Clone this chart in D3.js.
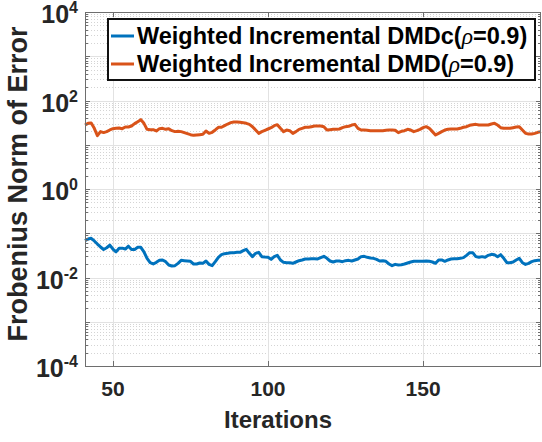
<!DOCTYPE html>
<html>
<head>
<meta charset="utf-8">
<script src="https://cdn.jsdelivr.net/npm/d3@7"></script>
<style>
  body { margin: 0; background: #fff; }
  text { font-family: Arial, "Liberation Sans", sans-serif; }
</style>
</head>
<body>
<script>
// iterations run from startIter, one value per iteration
var startIter = 41;
var endIter = 188;
var xTicks = [50, 100, 150];
var yExps = [-4, -2, 0, 2, 4];
var seriesNames = ["Weighted Incremental DMDc", "Weighted Incremental DMD"];
var seriesColors = ["#0072BD", "#D95319"];

// Weighted Incremental DMDc (rho = 0.9), iterations 41..188
var dmdcErr = [
  0.068, 0.074, 0.077, 0.067, 0.057, 0.049, 0.043, 0.047, 0.054, 0.044,
  0.038, 0.046, 0.046, 0.044, 0.051, 0.043, 0.043, 0.048, 0.048, 0.038,
  0.027, 0.0216, 0.0202, 0.022, 0.0244, 0.0249, 0.0228, 0.0192, 0.0182, 0.0185,
  0.0209, 0.0244, 0.024, 0.0236, 0.0232, 0.0202, 0.0202, 0.0213, 0.0209, 0.0236,
  0.0198, 0.0185, 0.0228, 0.0286,
  0.0328, 0.0346, 0.0352, 0.0364, 0.0364, 0.037, 0.037, 0.0404, 0.0433, 0.0352,
  0.0296, 0.0352, 0.037, 0.0296, 0.029, 0.0286, 0.0257, 0.0296, 0.0317, 0.0249,
  0.022, 0.0216, 0.0216, 0.0209, 0.0224, 0.024, 0.0249, 0.0262,
  0.0262, 0.0266, 0.0266, 0.0262, 0.0281, 0.0301, 0.0271, 0.0236, 0.0224, 0.0236,
  0.0236, 0.0228, 0.024, 0.0244, 0.0236, 0.0249, 0.0262, 0.0296, 0.0301, 0.0286,
  0.0276, 0.0271, 0.0257, 0.0236, 0.024, 0.0232, 0.0202, 0.0185, 0.0198, 0.0192,
  0.0195, 0.0202, 0.0213, 0.0224, 0.0232, 0.0232, 0.0232, 0.0232, 0.0236, 0.0232,
  0.0224, 0.0209, 0.0249, 0.0249, 0.0232, 0.0249, 0.0262, 0.0266, 0.0266, 0.0271,
  0.0281, 0.0317, 0.0364, 0.0364, 0.0296, 0.0286, 0.0296, 0.0286, 0.0317, 0.0334,
  0.0328, 0.0296, 0.0328, 0.0271, 0.0216, 0.0216, 0.0224, 0.0249, 0.0271, 0.0216,
  0.0198, 0.0209, 0.0228, 0.024, 0.0244, 0.0244
];

// Weighted Incremental DMD (rho = 0.9), iterations 41..188
var dmdErr = [
  27.9, 30.5, 31.0, 23.5, 16.0, 19.8, 18.8, 19.8, 21.6, 23.1,
  23.5, 23.9, 23.1, 25.2, 25.2, 26.5, 30.0, 33.2, 36.9, 30.5,
  22.3, 21.9, 21.9, 20.5, 23.1, 23.5, 22.3, 23.1, 20.8, 19.8,
  20.1, 19.8, 18.8, 17.8, 16.9, 16.3, 16.6, 16.9, 17.2, 20.5,
  18.1, 19.1, 21.6, 24.8,
  24.8, 27.0, 29.4, 31.6, 32.7, 32.7, 32.1, 31.6, 30.5, 28.9,
  25.6, 21.5, 18.1, 19.8, 21.2, 22.7, 24.3, 27.0, 28.4, 23.5,
  19.8, 21.5, 20.8, 18.1, 19.8, 22.3, 23.5, 24.8,
  24.8, 25.6, 26.5, 26.5, 26.5, 25.6, 21.5, 21.9, 22.3, 22.3,
  22.7, 24.3, 25.6, 26.1, 27.9, 28.9, 23.5, 21.5, 21.5, 21.2,
  20.8, 20.8, 20.8, 20.8, 20.8, 21.2, 21.5, 21.5, 21.2, 18.8,
  20.1, 20.8, 22.3, 21.5, 19.8, 20.8, 22.3, 24.3, 25.6, 23.5,
  19.8, 16.6, 18.1, 19.8, 21.5, 22.3, 22.7, 22.7, 22.7, 23.5,
  24.8, 25.6, 27.5, 28.4, 28.9, 27.9, 27.9, 27.9, 27.9, 29.4,
  30.5, 27.9, 24.3, 23.5, 23.5, 23.5, 24.3, 25.2, 25.6, 21.5,
  18.1, 17.5, 17.5, 18.1, 19.1, 19.8
];

var width = 542, height = 442;
// note: "top" is taken by window.top, so prefix these
var plotLeft = 85, plotRight = 541, plotTop = 12, plotBottom = 366;

var svg = d3.select("body").append("svg")
  .attr("width", width)
  .attr("height", height);

var x = d3.scaleLinear().domain([startIter, endIter]).range([plotLeft, plotRight]);
var y = d3.scaleLog().domain([1e-4, 1e4]).range([plotBottom, plotTop]);

// minor values 2..9 in each decade
var minorVals = [];
d3.range(-4, 4).forEach(function(e){
  for (var k = 2; k <= 9; k++) minorVals.push(k * Math.pow(10, e));
});
var majorVals = d3.range(-4, 5).map(function(e){ return Math.pow(10, e); });

function py(v){ return Math.round(y(v)) + 0.5; }

var grid = svg.append("g");
grid.selectAll("line.minor")
  .data(minorVals)
  .enter().append("line")
  .attr("class", "minor")
  .attr("x1", plotLeft).attr("x2", plotRight)
  .attr("y1", py).attr("y2", py)
  .attr("stroke", "#d4d4d4")
  .attr("stroke-dasharray", "1,2");
grid.selectAll("line.major")
  .data(majorVals)
  .enter().append("line")
  .attr("class", "major")
  .attr("x1", plotLeft).attr("x2", plotRight)
  .attr("y1", py).attr("y2", py)
  .attr("stroke", "#e2e2e2");
grid.selectAll("line.xgrid")
  .data(xTicks)
  .enter().append("line")
  .attr("class", "xgrid")
  .attr("y1", plotTop).attr("y2", plotBottom)
  .attr("x1", function(d){ return Math.round(x(d)) + 0.5; })
  .attr("x2", function(d){ return Math.round(x(d)) + 0.5; })
  .attr("stroke", "#e2e2e2");

// lines
var line = d3.line()
  .x(function(d, i){ return x(startIter + i); })
  .y(function(d){ return y(d); });
var plot = svg.append("g");
[dmdcErr, dmdErr].forEach(function(s, k){
  plot.append("path")
    .datum(s)
    .attr("d", line)
    .attr("fill", "none")
    .attr("stroke", seriesColors[k])
    .attr("stroke-width", 3)
    .attr("stroke-linejoin", "round");
});

// axes box with inward ticks
var axisColor = "#6e6e6e";
var axes = svg.append("g");
axes.append("rect")
  .attr("x", plotLeft + 0.5).attr("y", plotTop + 0.5)
  .attr("width", plotRight - plotLeft - 1).attr("height", plotBottom - plotTop)
  .attr("fill", "none").attr("stroke", axisColor);

var yTickData = majorVals.map(function(v){ return {v: v, len: 5}; })
  .concat(minorVals.map(function(v){ return {v: v, len: 3}; }));
[plotLeft, plotRight].forEach(function(ax){
  var dir = ax === plotLeft ? 1 : -1;
  axes.selectAll(null)
    .data(yTickData)
    .enter().append("line")
    .attr("x1", ax).attr("x2", function(d){ return ax + dir * d.len; })
    .attr("y1", function(d){ return py(d.v); })
    .attr("y2", function(d){ return py(d.v); })
    .attr("stroke", axisColor);
});
[plotBottom, plotTop].forEach(function(ay){
  var dir = ay === plotBottom ? -1 : 1;
  axes.selectAll(null)
    .data(xTicks)
    .enter().append("line")
    .attr("y1", ay).attr("y2", ay + dir * 5)
    .attr("x1", function(d){ return Math.round(x(d)) + 0.5; })
    .attr("x2", function(d){ return Math.round(x(d)) + 0.5; })
    .attr("stroke", axisColor);
});

// y tick labels 10^n
var ylab = svg.selectAll("text.ytick")
  .data(yExps)
  .enter().append("text")
  .attr("class", "ytick")
  .attr("x", 78)
  .attr("y", function(d){ return y(Math.pow(10, d)) + 11; })
  .attr("text-anchor", "end")
  .attr("fill", "#262626")
  .attr("font-weight", "bold");
ylab.append("tspan").attr("font-size", 25).text("10");
ylab.append("tspan").attr("font-size", 16).attr("dy", -10)
  .text(function(d){ return d < 0 ? "-" + (-d) : String(d); });

// x tick labels
svg.selectAll("text.xtick")
  .data(xTicks)
  .enter().append("text")
  .attr("class", "xtick")
  .attr("x", function(d){ return x(d); })
  .attr("y", 396)
  .attr("text-anchor", "middle")
  .attr("fill", "#262626")
  .attr("font-family", "Lato, 'Open Sans', sans-serif")
  .attr("font-weight", "bold")
  .attr("font-size", 21)
  .text(function(d){ return d; });

svg.append("text")
  .attr("x", 278).attr("y", 428)
  .attr("text-anchor", "middle")
  .attr("fill", "#262626")
  .attr("font-family", "Lato, 'Open Sans', sans-serif")
  .attr("font-weight", "bold")
  .attr("font-size", 24)
  .text("Iterations");

svg.append("text")
  .attr("transform", "translate(27,184) rotate(-90)")
  .attr("text-anchor", "middle")
  .attr("fill", "#262626")
  .attr("font-weight", "bold")
  .attr("font-size", 27)
  .text("Frobenius Norm of Error");

// legend
var legend = svg.append("g");
legend.append("rect")
  .attr("x", 108).attr("y", 19)
  .attr("width", 427).attr("height", 61)
  .attr("fill", "#fff")
  .attr("stroke", "#111")
  .attr("stroke-width", 2);
seriesNames.forEach(function(name, k){
  var ly = 36 + k * 28;
  legend.append("line")
    .attr("x1", 111).attr("x2", 134)
    .attr("y1", ly).attr("y2", ly)
    .attr("stroke", seriesColors[k])
    .attr("stroke-width", 3);
  var t = legend.append("text")
    .attr("x", 137).attr("y", ly + 8)
    .attr("font-weight", "bold")
    .attr("font-size", 23.5)
    .attr("fill", "#000");
  t.append("tspan").text(name + "(");
  t.append("tspan")
    .attr("font-family", "'Liberation Serif', 'DejaVu Serif', serif")
    .attr("font-style", "italic")
    .attr("font-weight", "normal")
    .text("\u03C1");
  t.append("tspan").text("=0.9)");
});
</script>
</body>
</html>
